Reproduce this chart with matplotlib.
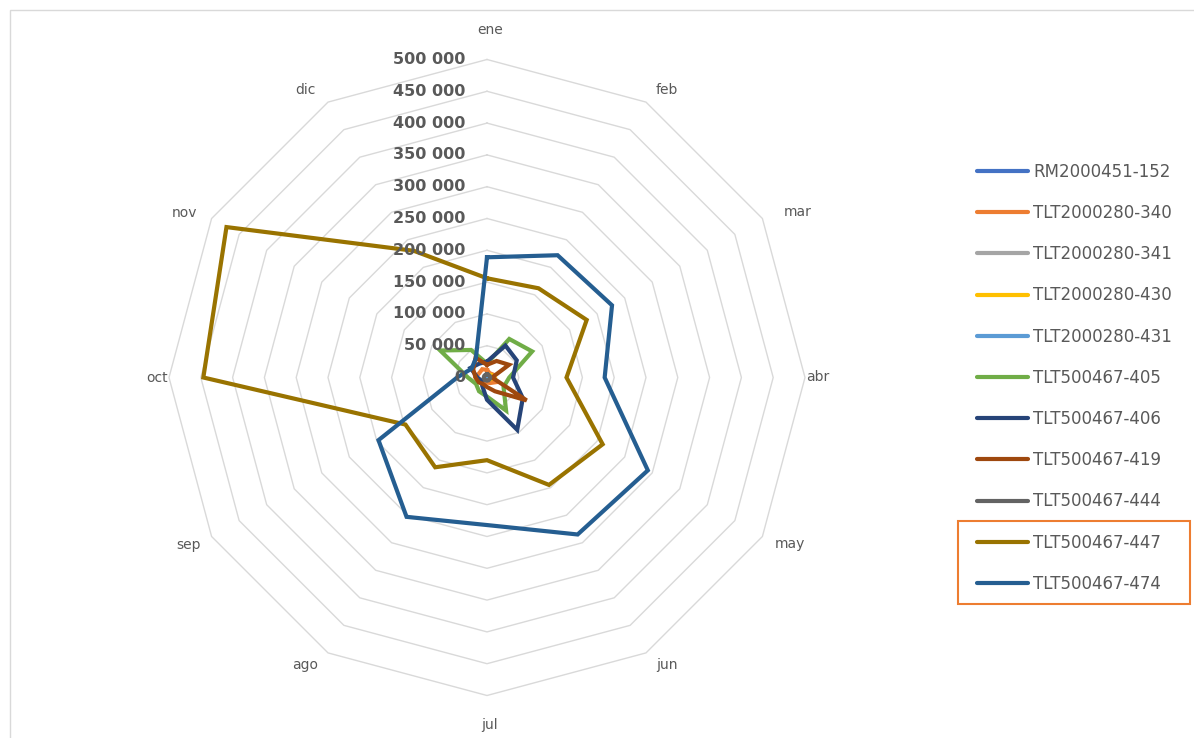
import numpy as np
import matplotlib.pyplot as plt
from matplotlib.patches import Rectangle
from matplotlib.lines import Line2D

months = ["ene", "feb", "mar", "abr", "may", "jun", "jul", "ago", "sep", "oct", "nov", "dic"]
series_names = ["RM2000451-152", "TLT2000280-340", "TLT2000280-341", "TLT2000280-430",
                "TLT2000280-431", "TLT500467-405", "TLT500467-406", "TLT500467-419",
                "TLT500467-444", "TLT500467-447", "TLT500467-474"]
colors = ["#4472C4", "#ED7D31", "#A5A5A5", "#FFC000", "#5B9BD5", "#70AD47",
          "#264478", "#9E480E", "#636363", "#997300", "#255E91"]

# values per month (ene..dic)
rm_152 = [2000, 2000, 2000, 2000, 2000, 2000, 2000, 2000, 2000, 2000, 2000, 2000]
tlt_340 = [12000, 8000, 10000, 6000, 15000, 10000, 8000, 10000, 15000, 18000, 14000, 15000]
tlt_341 = [1000, 1000, 1000, 1000, 1000, 1000, 1000, 1000, 1000, 1000, 1000, 1000]
tlt_430 = [3000, 5000, 8000, 11000, 6000, 3000, 2000, 2000, 2000, 2000, 2000, 2000]
tlt_431 = [1500, 1500, 1500, 1500, 1500, 1500, 1500, 1500, 1500, 1500, 1500, 1500]
tlt_405 = [22000, 70000, 82000, 35000, 30000, 60000, 30000, 25000, 20000, 30000, 85000, 50000]
tlt_406 = [25000, 58000, 54000, 41000, 65000, 95000, 35000, 15000, 10000, 15000, 30000, 25000]
tlt_419 = [20000, 30000, 40000, 8000, 72000, 25000, 15000, 12000, 15000, 18000, 25000, 36000]
tlt_444 = [5000, 5000, 5000, 5000, 5000, 5000, 5000, 5000, 5000, 5000, 5000, 5000]
tlt_447 = [156000, 162000, 181000, 125000, 210000, 195000, 130000, 163000, 148000, 446000, 473000, 230000]
tlt_474 = [189000, 222000, 227000, 185000, 292000, 285000, 232000, 253000, 197000, 47000, 28000, 35000]

all_values = [rm_152, tlt_340, tlt_341, tlt_430, tlt_431, tlt_405, tlt_406,
              tlt_419, tlt_444, tlt_447, tlt_474]

levels = np.arange(50000, 500001, 50000)
level_labels = ["{:,}".format(v).replace(",", " ") for v in np.arange(0, 500001, 50000)]

# pixel offsets of the month labels from the outer polygon corners (x right, y up)
month_offsets = [(3, 30), (21, 12), (35, 6), (13, 0), (28, -8), (21, -12),
                 (3, -30), (-23, -12), (-23, -8), (-12, 0), (-27, 6), (-23, 12)]

W, H = 1194, 738
fig = plt.figure(figsize=(W / 100, H / 100), dpi=100)

# chart frame (cut off at right and bottom)
fig.patches.append(Rectangle((10 / W, -0.1), 1.2, (H - 10) / H + 0.1, transform=fig.transFigure,
                             fill=False, edgecolor="#D9D9D9", lw=1))

cx, cy, R = 487, 377.5, 318
ax = fig.add_axes([(cx - R) / W, (H - cy - R) / H, 2 * R / W, 2 * R / H], projection="polar")
ax.set_theta_zero_location("N")
ax.set_theta_direction(-1)
ax.set_ylim(0, 500000)
ax.spines["polar"].set_visible(False)
ax.set_facecolor("none")
ax.set_xticks([])
ax.set_yticks([])
ax.grid(False)

angles = np.linspace(0, 2 * np.pi, len(months), endpoint=False)
closed = np.append(angles, angles[0])

for lv in levels:
    ax.plot(closed, [lv] * len(closed), color="#D9D9D9", lw=1, zorder=0, clip_on=False)

for ang, m, off in zip(angles, months, month_offsets):
    ax.annotate(m, xy=(ang, 500000), xytext=off, textcoords="offset pixels",
                ha="center", va="center", fontsize=10, color="#595959",
                annotation_clip=False)

for i, lab in enumerate(level_labels):
    ax.annotate(lab, xy=(0, i * 50000), xytext=(-22, 0), textcoords="offset pixels",
                ha="right", va="center", fontsize=11.5, fontweight="bold", color="#595959",
                annotation_clip=False)

for name, vals, col in zip(series_names, all_values, colors):
    v = np.append(vals, vals[0])
    ax.plot(closed, v, color=col, lw=3, label=name, solid_joinstyle="miter", clip_on=False)

handles = [Line2D([], [], color=c, lw=3, solid_capstyle="round") for c in colors]
leg = fig.legend(handles, series_names, loc="upper left",
                 bbox_to_anchor=(977 / W, 1 - 163 / H), frameon=False, fontsize=12,
                 handlelength=3.06, handletextpad=0.3, labelspacing=1.39,
                 borderpad=0, borderaxespad=0, labelcolor="#595959")

# highlight box around the last two legend entries
fig.patches.append(Rectangle((958 / W, 1 - 604 / H), (1190 - 958) / W, (604 - 521) / H,
                             transform=fig.transFigure, fill=False,
                             edgecolor="#ED7D31", lw=1.5))

fig.savefig("out.png", dpi=100, facecolor="white")
